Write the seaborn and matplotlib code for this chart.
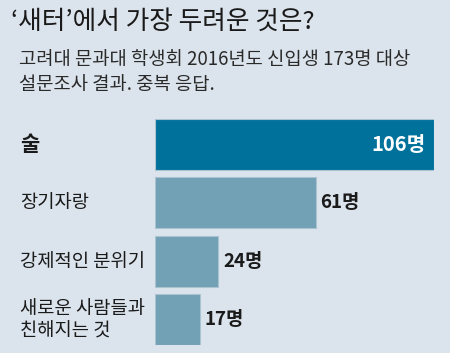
import matplotlib
matplotlib.use("Agg")
import matplotlib.pyplot as plt
import matplotlib.transforms as mtransforms
import seaborn as sns

# data
categories = ["술", "장기자랑", "강제적인 분위기", "새로운 사람들과\n친해지는 것"]
counts = [106, 61, 24, 17]
value_labels = ["106명", "61명", "24명", "17명"]
bar_colors = ["#00719a", "#72a0b5", "#72a0b5", "#72a0b5"]

title = "‘새터’에서 가장 두려운 것은?"
subtitle = "고려대 문과대 학생회 2016년도 신입생 173명 대상\n설문조사 결과. 중복 응답."

BG = "#dbe4ec"
W, H = 450, 353

sns.set_style("white")
plt.rcParams["font.family"] = ["Noto Sans CJK KR", "DejaVu Sans"]

fig = plt.figure(figsize=(W / 100, H / 100), dpi=100, facecolor=BG)
# axes box in pixels: x 155..434, y 119..345 (from top)
ax = fig.add_axes([155 / W, 1 - 345 / H, (434 - 155) / W, (345 - 119) / H])
ax.set_facecolor(BG)

sns.barplot(x=counts, y=categories, hue=categories, palette=bar_colors,
            legend=False, width=0.875, ax=ax, saturation=1,
            edgecolor="#a9c3d0", linewidth=0.8)

ax.set_xlim(0, counts[0])
ax.set_ylim(len(categories) - 1 + 0.4375, -0.4375)
ax.set_xticks([])
ax.set_yticks([])
ax.set_xlabel("")
ax.set_ylabel("")
for s in ax.spines.values():
    s.set_visible(False)

# value labels
for i, (v, lab) in enumerate(zip(counts, value_labels)):
    if i == 0:
        ax.text(v - 3.4, i, lab, ha="right", va="center", color="white",
                fontsize=14.5, fontweight="bold")
    else:
        ax.text(v + 1.9, i, lab, ha="left", va="center", color="#1a1a1a",
                fontsize=13.5, fontweight="bold")

# category labels on the left
trans = mtransforms.blended_transform_factory(fig.transFigure, ax.transData)
for i, cat in enumerate(categories):
    if i == 0:
        ax.text(20 / W, i, cat, transform=trans, ha="left", va="center",
                fontsize=15, fontweight="bold", color="#1a1a1a")
    else:
        ax.text(20 / W, i, cat, transform=trans, ha="left", va="center",
                fontsize=13.5, color="#1a1a1a", linespacing=1.1)

# title and subtitle
fig.text(11 / W, 1 - 22 / H, title, ha="left", va="center",
         fontsize=18.5, fontweight="medium", color="#1a1a1a")
fig.text(19 / W, 1 - 72 / H, subtitle, ha="left", va="center",
         fontsize=13.5, color="#2a2a2a", linespacing=1.3)

fig.savefig("out.png", dpi=100, facecolor=BG)
